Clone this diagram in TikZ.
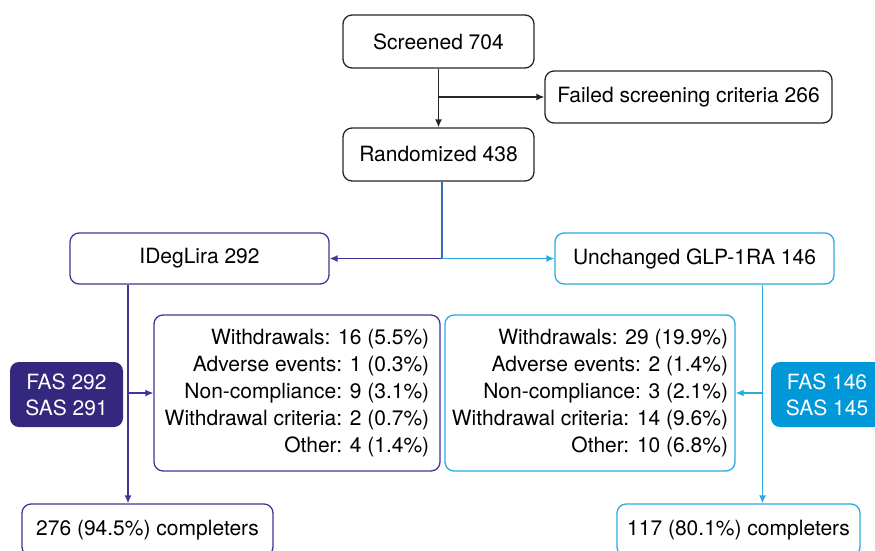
\documentclass[tikz,border=0pt]{standalone}
\usepackage{fontspec}
\setmainfont{TeX Gyre Heros}
\usepackage{tikz}
\usetikzlibrary{arrows.meta}
\definecolor{idegcol}{RGB}{66,52,148}
\definecolor{idegfill}{RGB}{52,40,126}
\definecolor{glpcol}{RGB}{41,171,226}
\definecolor{glpfill}{RGB}{0,152,216}
\definecolor{splitcol}{RGB}{58,109,181}
\tikzset{
    flowbox/.style={draw=black!85, rounded corners=9pt, line width=1.3pt, inner sep=0pt, font=\fontsize{21}{27}\selectfont},
    fasbox/.style={rounded corners=9pt, text=white, inner sep=0pt, align=center, font=\fontsize{21}{26}\selectfont},
    flowarrow/.style={>={Latex[length=8pt,width=7pt]}, ->, line width=1.3pt}
}

\begin{document}
\begin{tikzpicture}[x=1pt, y=-1pt]
    \useasboundingbox (0,0) rectangle (875,551);

    \node[flowbox, minimum width=191, minimum height=53] (1) at (438.5,41.5) {Screened 704};
    \node[flowbox, minimum width=287, minimum height=52] (2) at (688.5,97) {Failed screening criteria 266};
    \node[flowbox, minimum width=191, minimum height=53] (3) at (438.5,154.5) {Randomized 438};

    \node[flowbox, draw=idegcol, minimum width=259, minimum height=51] (4) at (199.5,258.5) {IDegLira 292};
    \node[flowbox, draw=glpcol, minimum width=279, minimum height=51] (5) at (694.5,258.5) {Unchanged GLP-1RA 146};

    \node[flowbox, draw=idegcol, align=right, minimum width=286, minimum height=156] (6) at (297,393) {Withdrawals: 16 (5.5\%)\\Adverse events: 1 (0.3\%)\\Non-compliance: 9 (3.1\%)\\Withdrawal criteria: 2 (0.7\%)\\Other: 4 (1.4\%)};
    \node[flowbox, draw=glpcol, align=right, minimum width=290, minimum height=156] (7) at (590,393) {Withdrawals: 29 (19.9\%)\\Adverse events: 2 (1.4\%)\\Non-compliance: 3 (2.1\%)\\Withdrawal criteria: 14 (9.6\%)\\Other: 10 (6.8\%)};

    \node[fasbox, fill=idegfill, minimum width=113, minimum height=65] (8) at (66.5,394.5) {FAS 292\\SAS 291};
    \node[fasbox, fill=glpfill, minimum width=112, minimum height=65] (9) at (827,394.5) {FAS 146\\SAS 145};

    \node[flowbox, draw=idegcol, minimum width=251, minimum height=52] (10) at (147.5,530) {276 (94.5\%) completers};
    \node[flowbox, draw=glpcol, minimum width=243, minimum height=52] (11) at (738.5,530) {117 (80.1\%) completers};

    \coordinate (j) at (438.5,97);
    \coordinate (s) at (442,258.5);
    \coordinate (l) at (128,393);
    \coordinate (r) at (762.5,393);

    \draw[flowarrow, black!85] (1) -- (3);
    \draw[flowarrow, black!85] (j) -- (2);
    \draw[splitcol, line width=1.3pt] (s |- 3.south) -- (s);
    \draw[flowarrow, idegcol] (s) -- (4);
    \draw[flowarrow, glpcol] (s) -- (5);

    \draw[flowarrow, idegcol] (l |- 4.south) -- (l |- 10.north);
    \draw[flowarrow, idegcol] (l) -- (6);
    \draw[flowarrow, glpcol] (r |- 5.south) -- (r |- 11.north);
    \draw[flowarrow, glpcol] (r) -- (7);
\end{tikzpicture}
\end{document}
